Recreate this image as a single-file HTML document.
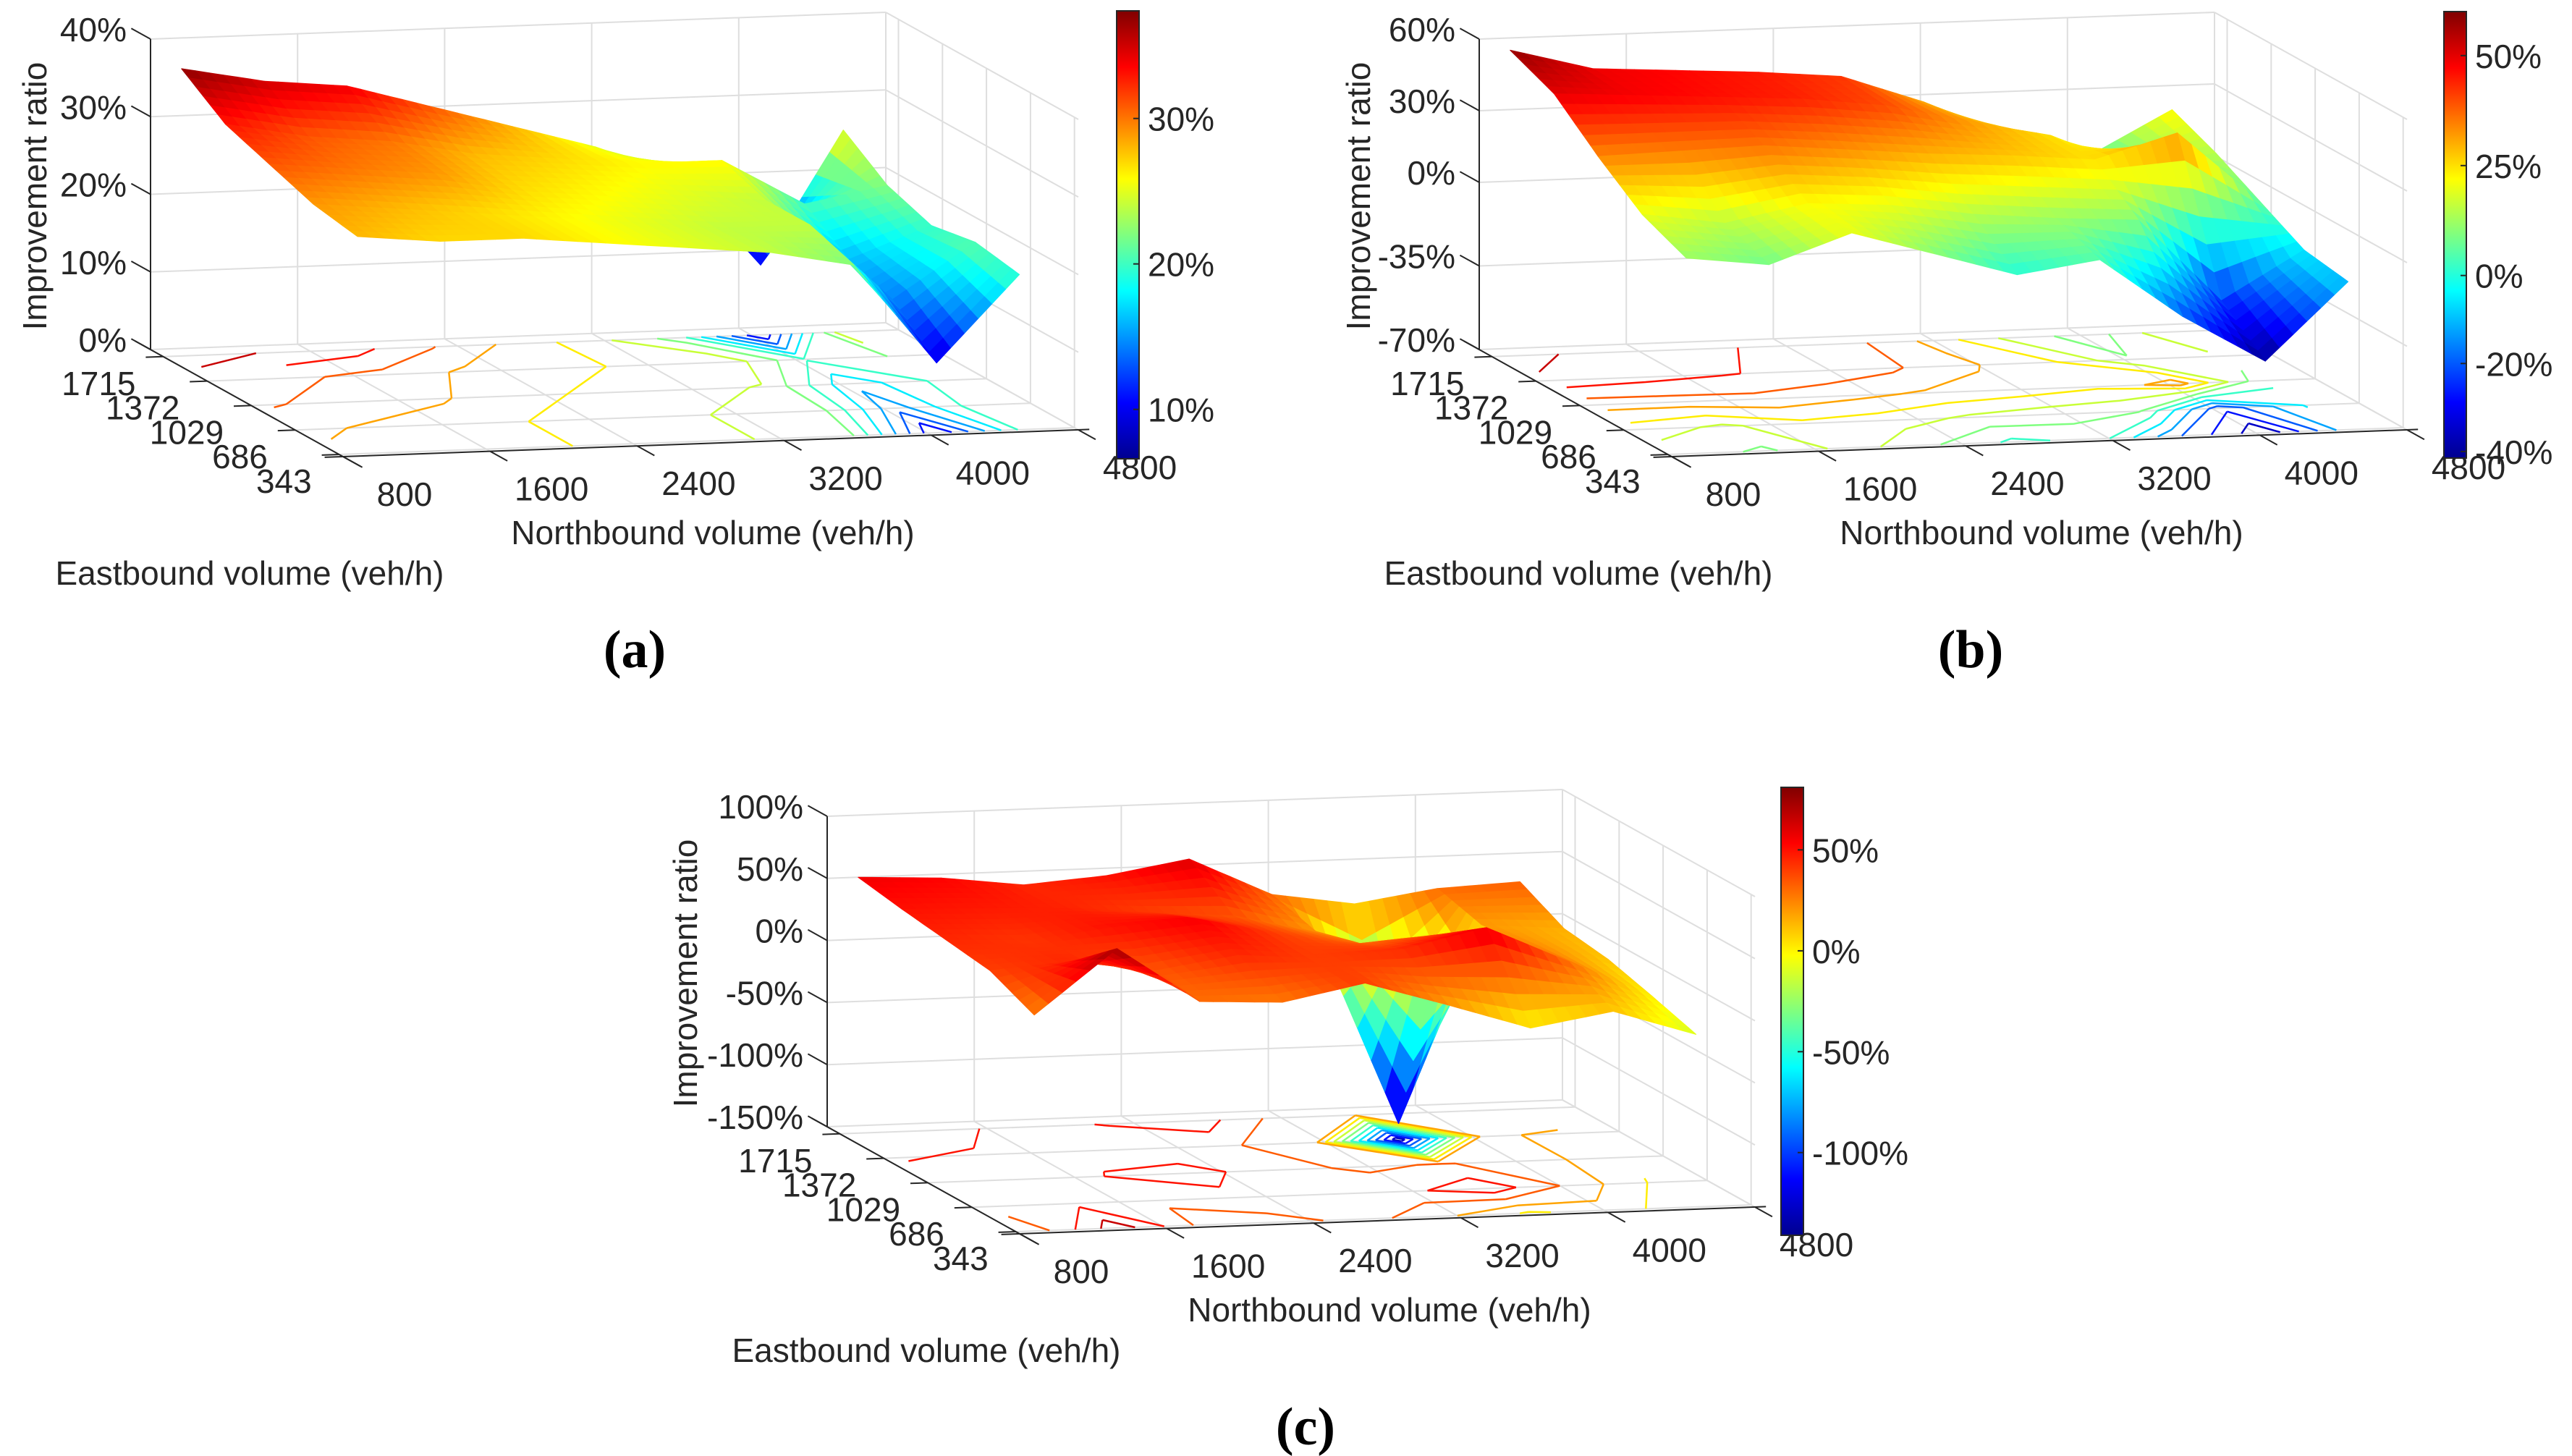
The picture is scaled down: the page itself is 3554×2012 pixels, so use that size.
<!DOCTYPE html>
<html><head><meta charset="utf-8"><style>
html,body{margin:0;padding:0;background:#fff;}
svg{display:block;font-family:"Liberation Sans",Arial,sans-serif;}
</style></head><body>
<svg id="fig" xmlns="http://www.w3.org/2000/svg" width="3554" height="2012" viewBox="0 0 3554 2012">
<defs>
<linearGradient id="jetgrad" x1="0" y1="1" x2="0" y2="0">
<stop offset="0" stop-color="#00008f"/><stop offset="0.125" stop-color="#0000ff"/><stop offset="0.375" stop-color="#00ffff"/><stop offset="0.625" stop-color="#ffff00"/><stop offset="0.875" stop-color="#ff0000"/><stop offset="1" stop-color="#800000"/>
</linearGradient>
</defs>
</svg>
<script>
// ---- data ----
const xGrid = [900,1350,1800,2250,2700,3150,3600,4050,4500];
const yGrid = [1715,1372,1029,686,343];
const xTicks = [800,1600,2400,3200,4000,4800];
const yTicks = [343,686,1029,1372,1715];
const zA = [
 [37,35,34,31,28,25,21,9,26],
 [33,31,30,28,27,26,26,20,22],
 [31,30,29,27,26,25,24,16,20],
 [29,28,27,26,25,24,24,14,21],
 [28,27,27,26,25,24,22,9,20]];
const zB = [
 [58,49,47,45,42,30,15,5,23],
 [50,48,46,44,40,32,25,10,15],
 [34,35,36,33,30,28,25,35,5],
 [20,15,22,20,15,12,10,-25,-5],
 [12,8,20,10,0,5,-20,-40,-8]];
const zC = [
 [56,53,45,50,61,30,20,30,33],
 [50,48,46,40,35,20,-137,20,15],
 [45,42,50,55,40,30,35,25,10],
 [40,45,35,45,40,45,60,30,0],
 [24,75,30,27,40,20,-1,10,-11]];
const zTicksA = [0,10,20,30,40];
const zTicksB = [-70,-35,0,30,60];
const zTicksC = [-150,-100,-50,0,50,100];
const cbTicksA = [10,20,30];
const cbTicksB = [-40,-20,0,25,50];
const cbTicksC = [-100,-50,0,50];

// ---- layout (not data) ----
const panels = [
 {key:'a', ox:0, oy:0, zmin:0, zmax:40, cmin:6.6, cmax:37.4, z:zA, zt:zTicksA, cbt:cbTicksA, cbx:1543, cby0:15, cby1:634, tx:877, ty:922, titx:48},
 {key:'b', ox:1836, oy:0, zmin:-70, zmax:60, cmin:-41.5, cmax:60, z:zB, zt:zTicksB, cbt:cbTicksB, cbx:3377, cby0:16, cby1:633, tx:2723, ty:922, titx:41},
 {key:'c', ox:935, oy:1074, zmin:-150, zmax:100, cmin:-141, cmax:81, z:zC, zt:zTicksC, cbt:cbTicksC, cbx:2461, cby0:1088, cby1:1707, tx:1804, ty:1996, titx:12}
];
const NS='http://www.w3.org/2000/svg';
const svg=document.getElementById('fig');
function mk(tag, attrs, parent){const e=document.createElementNS(NS,tag);for(const k in attrs)e.setAttribute(k,attrs[k]);(parent||svg).appendChild(e);return e;}
function jet(t){t=Math.max(0,Math.min(1,t));const c=v=>Math.round(255*Math.max(0,Math.min(1,v)));
 return 'rgb('+c(1.5-Math.abs(4*t-3))+','+c(1.5-Math.abs(4*t-2))+','+c(1.5-Math.abs(4*t-1))+')';}
const YMIN=313, YMAX=1814;
function proj(P,x,y,z){const u=(x-800)/4000, v=(y-YMIN)/(YMAX-YMIN), w=(z-P.zmin)/(P.zmax-P.zmin);
 return [P.ox+474+1016*u-266*v, P.oy+631-37*u-148*v-429*w];}
function line(g,a,b,col,wd){return mk('line',{x1:a[0].toFixed(1),y1:a[1].toFixed(1),x2:b[0].toFixed(1),y2:b[1].toFixed(1),stroke:col,'stroke-width':wd},g);}
function pct(v){return v+'%';}

panels.forEach(P=>{
 const g=mk('g',{});
 
 
 const gg=mk('g',{},g);
 
 
 const GC='#dedede';
 xTicks.forEach(xt=>{line(gg,proj(P,xt,YMAX,P.zmin),proj(P,xt,YMAX,P.zmax),GC,2);line(gg,proj(P,xt,YMIN,P.zmin),proj(P,xt,YMAX,P.zmin),GC,2);});
 yTicks.forEach(yt=>{line(gg,proj(P,4800,yt,P.zmin),proj(P,4800,yt,P.zmax),GC,2);line(gg,proj(P,800,yt,P.zmin),proj(P,4800,yt,P.zmin),GC,2);});
 P.zt.forEach(zt=>{line(gg,proj(P,800,YMAX,zt),proj(P,4800,YMAX,zt),GC,2);line(gg,proj(P,4800,YMIN,zt),proj(P,4800,YMAX,zt),GC,2);});
 const cg=mk('g',{},g);
 
 
 const nL=14;
 for(let L=1;L<nL;L++){
  const lev=P.cmin+(P.cmax-P.cmin)*L/nL;
  let d='';
  for(let r=0;r<yGrid.length-1;r++)for(let c=0;c<xGrid.length-1;c++){
   const cs=[[xGrid[c],yGrid[r],P.z[r][c]],[xGrid[c+1],yGrid[r],P.z[r][c+1]],[xGrid[c+1],yGrid[r+1],P.z[r+1][c+1]],[xGrid[c],yGrid[r+1],P.z[r+1][c]]];
   const pts=[];
   for(let e=0;e<4;e++){const A=cs[e],B=cs[(e+1)%4];
    if((A[2]-lev)*(B[2]-lev)<0){const t=(lev-A[2])/(B[2]-A[2]);pts.push(proj(P,A[0]+t*(B[0]-A[0]),A[1]+t*(B[1]-A[1]),P.zmin));}}
   for(let k=0;k+1<pts.length;k+=2)d+='M'+pts[k][0].toFixed(1)+' '+pts[k][1].toFixed(1)+'L'+pts[k+1][0].toFixed(1)+' '+pts[k+1][1].toFixed(1);
  }
  if(d){const p=mk('path',{d:d,stroke:jet((lev-P.cmin)/(P.cmax-P.cmin)),'stroke-width':2.5,fill:'none'},cg);
   
   }
 }
 const ag=mk('g',{},g);
 
 
 const AC='#262626';
 line(ag,proj(P,700,YMIN,P.zmin),proj(P,4860,YMIN,P.zmin),AC,2);
 line(ag,proj(P,800,YMIN-150,P.zmin),proj(P,800,YMAX+120,P.zmin),AC,2);
 line(ag,proj(P,800,YMAX,P.zmin),proj(P,800,YMAX,P.zmax),AC,2);
 const sg=mk('g',{},g);
 
 
 const N=6, quads=[];
 for(let r=0;r<yGrid.length-1;r++)for(let c=0;c<xGrid.length-1;c++){
  const z00=P.z[r][c],z01=P.z[r][c+1],z10=P.z[r+1][c],z11=P.z[r+1][c+1];
  const bz=(s,t)=>z00*(1-s)*(1-t)+z01*s*(1-t)+z10*(1-s)*t+z11*s*t;
  for(let a=0;a<N;a++)for(let b=0;b<N;b++){
   const s0=a/N,s1=(a+1)/N,t0=b/N,t1=(b+1)/N;
   const X=s=>xGrid[c]+s*(xGrid[c+1]-xGrid[c]), Y=t=>yGrid[r]+t*(yGrid[r+1]-yGrid[r]);
   const pts=[[s0,t0],[s1,t0],[s1,t1],[s0,t1]].map(q=>proj(P,X(q[0]),Y(q[1]),bz(q[0],q[1])));
   const zc=bz((s0+s1)/2,(t0+t1)/2);
   const u=(X((s0+s1)/2)-800)/4000, v=(Y((t0+t1)/2)-YMIN)/(YMAX-YMIN);
   quads.push({pts,zc,depth:0.25*u+v});
  }
 }
 quads.sort((p,q)=>q.depth-p.depth);
 quads.forEach(q=>{const col=jet((q.zc-P.cmin)/(P.cmax-P.cmin));
  const pg=mk('polygon',{points:q.pts.map(p=>p[0].toFixed(1)+','+p[1].toFixed(1)).join(' '),fill:col,stroke:col,'stroke-width':1.2,'stroke-linejoin':'round'},sg);
  
  });
 const tg=mk('g',{fill:'#262626','font-size':46},g);
 
 
 xTicks.forEach(xt=>{const a=proj(P,xt,YMIN,P.zmin);line(ag,a,proj(P,xt,YMIN-135,P.zmin),AC,2);
  const t=mk('text',{x:(a[0]+85).toFixed(1),y:(a[1]+68).toFixed(1),'text-anchor':'middle'},tg);t.textContent=xt;
  
  });
 yTicks.forEach(yt=>{const a=proj(P,800,yt,P.zmin);line(ag,a,proj(P,705,yt,P.zmin),AC,2);
  const t=mk('text',{x:(a[0]-38).toFixed(1),y:(a[1]+53).toFixed(1),'text-anchor':'end'},tg);t.textContent=yt;
  
  });
 P.zt.forEach(zt=>{const a=proj(P,800,YMAX,zt);line(ag,a,proj(P,800,YMAX+150,zt),AC,2);
  const t=mk('text',{x:(P.ox+175).toFixed(1),y:(a[1]+3).toFixed(1),'text-anchor':'end'},tg);t.textContent=pct(zt);
  
  });
 const tx=P.ox+P.titx, ty=P.oy+271;
 const t1=mk('text',{x:tx,y:ty,'text-anchor':'middle',transform:'rotate(-90 '+tx+' '+ty+')',dy:16,'font-size':46,fill:'#262626'},g);
 t1.textContent='Improvement ratio';
 
 
 const t2=mk('text',{x:P.ox+985,y:P.oy+752,'text-anchor':'middle','font-size':46,fill:'#262626'},g);
 t2.textContent='Northbound volume (veh/h)';
 
 
 const t3=mk('text',{x:P.ox+345,y:P.oy+808,'text-anchor':'middle','font-size':46,fill:'#262626'},g);
 t3.textContent='Eastbound volume (veh/h)';
 
 
 const cb=mk('rect',{x:P.cbx,y:P.cby0,width:31,height:P.cby1-P.cby0,fill:'url(#jetgrad)',stroke:'#262626','stroke-width':2},g);
 
 
 P.cbt.forEach(v=>{const y=P.cby1-(v-P.cmin)/(P.cmax-P.cmin)*(P.cby1-P.cby0);
  line(g,[P.cbx+23,y],[P.cbx+31,y],'#262626',2);
  const t=mk('text',{x:P.cbx+43,y:(y+17).toFixed(1),'font-size':46,fill:'#262626'},g);t.textContent=pct(v);
  
  });
 const pl=mk('text',{x:P.tx,y:P.ty,'text-anchor':'middle','font-size':74,'font-weight':'bold','font-family':'"Liberation Serif",serif',fill:'#000'},g);
 pl.textContent='('+P.key+')';
 
 
});
</script>
</body></html>
